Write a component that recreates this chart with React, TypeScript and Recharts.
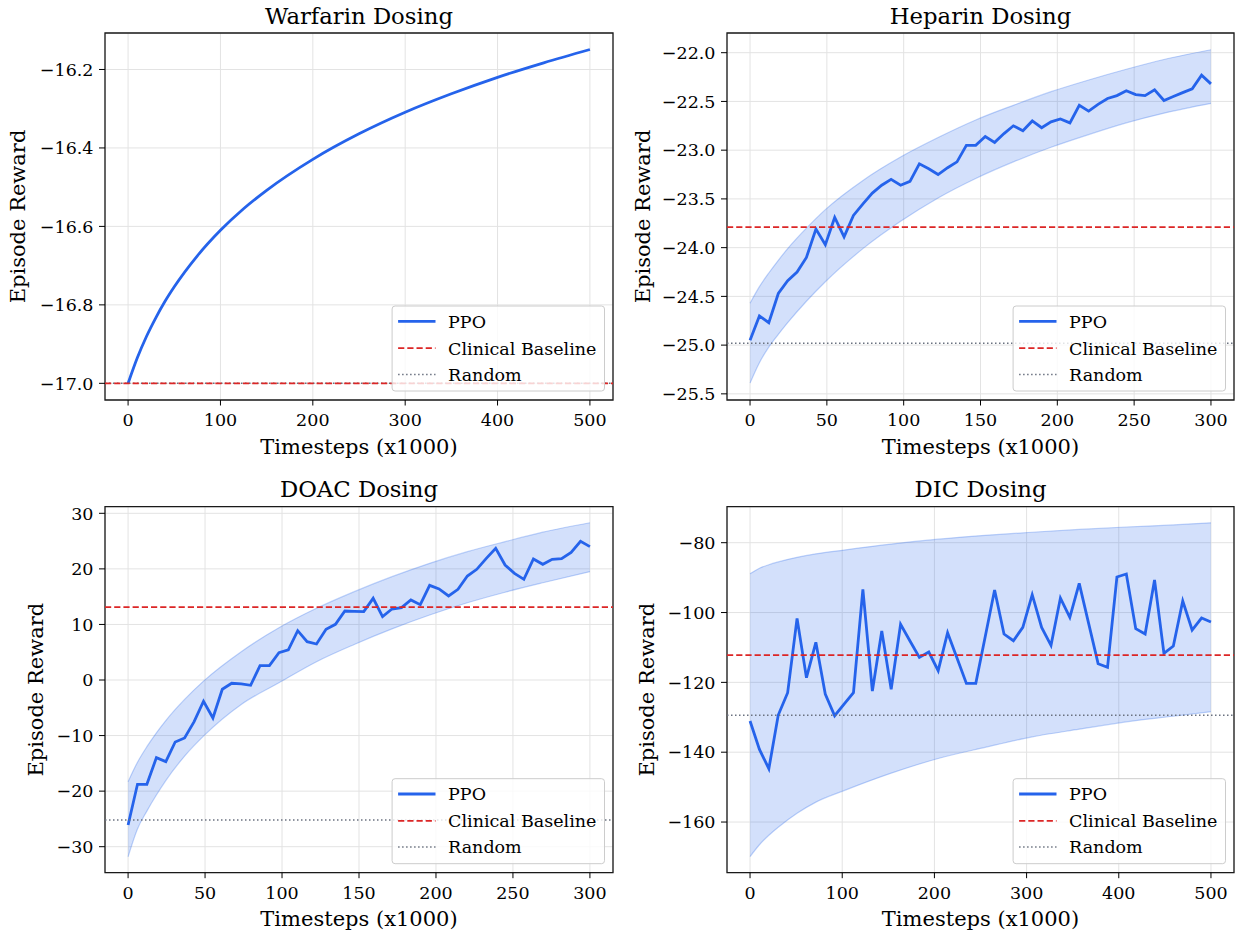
import React from 'react';
import {
  ComposedChart,
  Line,
  Area,
  XAxis,
  YAxis,
  CartesianGrid,
  ReferenceLine,
  ReferenceArea,
} from 'recharts';

const FONT = '"DejaVu Serif", "Liberation Serif", serif';
const BLUE = '#2563eb';
const RED = '#dc2626';
const GRAY = '#6b7280';

// ---------- Warfarin ----------
const warfarinSteps = [0, 10, 20, 30, 40, 50, 75, 100, 125, 150, 200, 250, 300, 350, 400, 450, 500];
const warfarinPPO = [-17.0, -16.935, -16.88, -16.833, -16.791, -16.754, -16.675, -16.61, -16.555, -16.508, -16.429, -16.364, -16.309, -16.262, -16.22, -16.183, -16.149];
const warfarinClinical = -17.0;
const warfarinRandom = -17.0;

// ---------- shared timestep grids ----------
const steps300 = [0, 6.1, 12.2, 18.4, 24.5, 30.6, 36.7, 42.9, 49.0, 55.1, 61.2, 67.3, 73.5, 79.6, 85.7, 91.8, 98.0, 104.1, 110.2, 116.3, 122.4, 128.6, 134.7, 140.8, 146.9, 153.1, 159.2, 165.3, 171.4, 177.6, 183.7, 189.8, 195.9, 202.0, 208.2, 214.3, 220.4, 226.5, 232.7, 238.8, 244.9, 251.0, 257.1, 263.3, 269.4, 275.5, 281.6, 287.8, 293.9, 300];
const steps500 = [0, 10.2, 20.4, 30.6, 40.8, 51.0, 61.2, 71.4, 81.6, 91.8, 102.0, 112.2, 122.4, 132.7, 142.9, 153.1, 163.3, 173.5, 183.7, 193.9, 204.1, 214.3, 224.5, 234.7, 244.9, 255.1, 265.3, 275.5, 285.7, 295.9, 306.1, 316.3, 326.5, 336.7, 346.9, 357.1, 367.3, 377.6, 387.8, 398.0, 408.2, 418.4, 428.6, 438.8, 449.0, 459.2, 469.4, 479.6, 489.8, 500];

// ---------- Heparin ----------
const heparinPPO = [-24.95, -24.70, -24.77, -24.47, -24.34, -24.25, -24.10, -23.81, -23.97, -23.69, -23.89, -23.67, -23.55, -23.44, -23.36, -23.30, -23.36, -23.32, -23.14, -23.19, -23.25, -23.18, -23.12, -22.95, -22.95, -22.86, -22.92, -22.83, -22.75, -22.80, -22.70, -22.77, -22.71, -22.68, -22.72, -22.54, -22.60, -22.53, -22.47, -22.44, -22.39, -22.43, -22.44, -22.38, -22.49, -22.45, -22.41, -22.37, -22.23, -22.32];
const heparinBandSteps = [0, 6.1, 12.2, 18.4, 24.5, 36.7, 49.0, 73.5, 98.0, 122.4, 146.9, 171.4, 195.9, 220.4, 244.9, 269.4, 300];
const heparinBandLow = [-25.39, -25.18, -25.02, -24.89, -24.77, -24.55, -24.35, -24.01, -23.73, -23.49, -23.29, -23.12, -22.97, -22.84, -22.72, -22.62, -22.52];
const heparinBandHigh = [-24.57, -24.40, -24.26, -24.13, -24.01, -23.80, -23.61, -23.31, -23.07, -22.87, -22.69, -22.54, -22.40, -22.28, -22.17, -22.07, -21.97];
const heparinClinical = -23.79;
const heparinRandom = -24.98;

// ---------- DOAC ----------
const doacPPO = [-26.09, -18.77, -18.77, -13.97, -14.69, -11.15, -10.43, -7.49, -3.83, -6.83, -1.67, -0.59, -0.71, -0.95, 2.59, 2.59, 4.93, 5.41, 8.88, 6.90, 6.48, 9.12, 10.02, 12.42, 12.36, 12.30, 14.70, 11.40, 12.78, 13.02, 14.40, 13.56, 17.04, 16.38, 15.12, 16.32, 18.72, 19.92, 21.90, 23.70, 20.70, 19.20, 18.12, 21.78, 20.82, 21.72, 21.84, 22.98, 24.96, 24.00];
const doacBandSteps = [0, 6.1, 12.2, 18.4, 24.5, 36.7, 49.0, 73.5, 98.0, 122.4, 146.9, 171.4, 195.9, 220.4, 244.9, 269.4, 300];
const doacBandLow = [-31.8, -26.8, -23.6, -20.7, -18.1, -13.7, -10.1, -4.4, -0.5, 3.3, 6.4, 9.2, 11.7, 13.9, 15.8, 17.5, 19.5];
const doacBandHigh = [-18.3, -14.8, -12.0, -9.5, -7.3, -3.5, -0.2, 5.1, 9.4, 12.9, 15.9, 18.6, 21.0, 23.1, 24.9, 26.6, 28.3];
const doacClinical = 13.1;
const doacRandom = -25.2;

// ---------- DIC ----------
const dicPPO = [-131.07, -139.19, -144.73, -129.36, -122.96, -101.67, -118.66, -108.54, -123.34, -129.55, -126.21, -122.96, -93.37, -122.48, -105.30, -122.00, -103.39, -108.16, -112.84, -111.31, -116.66, -105.78, -113.03, -120.29, -120.29, -106.92, -93.56, -106.16, -108.07, -104.25, -94.89, -104.25, -109.40, -95.85, -101.38, -91.65, -103.10, -114.65, -115.70, -89.83, -88.97, -104.63, -106.16, -90.69, -111.69, -109.59, -96.71, -105.01, -101.58, -102.72];
const dicBandSteps = [0, 10.2, 20.4, 30.6, 51.0, 71.4, 102.0, 153.1, 204.1, 255.1, 306.1, 357.1, 408.2, 459.2, 500];
const dicBandLow = [-169.9, -166.5, -163.8, -161.5, -157.5, -154.3, -151.0, -146.0, -141.8, -138.6, -135.6, -133.4, -131.3, -129.7, -128.4];
const dicBandHigh = [-88.9, -87.3, -86.3, -85.5, -84.2, -83.2, -82.1, -80.4, -79.0, -77.9, -77.0, -76.2, -75.5, -74.9, -74.3];
const dicClinical = -112.2;
const dicRandom = -129.4;

// ---------- tick labels ----------
const xTicks500 = [0, 100, 200, 300, 400, 500];
const xTicks300 = [0, 50, 100, 150, 200, 250, 300];
const warfarinYTicks = [-17.0, -16.8, -16.6, -16.4, -16.2];
const heparinYTicks = [-25.5, -25.0, -24.5, -24.0, -23.5, -23.0, -22.5, -22.0];
const doacYTicks = [-30, -20, -10, 0, 10, 20, 30];
const dicYTicks = [-160, -140, -120, -100, -80];

const titles = ['Warfarin Dosing', 'Heparin Dosing', 'DOAC Dosing', 'DIC Dosing'];
const legendLabels = ['PPO', 'Clinical Baseline', 'Random'];
const xLabel = 'Timesteps (x1000)';
const yLabel = 'Episode Reward';

type Row = { x: number; ppo?: number; band?: [number, number] };

function buildTable(steps: number[], ppo: number[], bSteps?: number[], bLow?: number[], bHigh?: number[]): Row[] {
  return steps.map((x, i) => {
    const row: Row = { x, ppo: ppo[i] };
    if (bSteps && bLow && bHigh) {
      const j = bSteps.indexOf(x);
      if (j >= 0) row.band = [bLow[j], bHigh[j]];
    }
    return row;
  });
}

const fmt = (d: number) => (v: number) => (v < 0 ? '\u2212' : '') + Math.abs(v).toFixed(d);

const TICK_FS = 17.5;
const LABEL_FS = 21;
const TITLE_FS = 22.75;

type PanelProps = {
  left: number;
  top: number;
  width: number;
  height: number;
  marginTop: number;
  marginRight: number;
  yAxisWidth: number;
  xAxisHeight: number;
  data: Row[];
  xDomain: [number, number];
  xTicks: number[];
  yDomain: [number, number];
  yTicks: number[];
  decimals: number;
  band: boolean;
  smooth: boolean;
  clinical: number;
  random: number;
};

function Panel(p: PanelProps) {
  const tickStyle = { fill: '#000', fontSize: TICK_FS, fontFamily: FONT };
  return (
    <div style={{ position: 'absolute', left: p.left, top: p.top, width: p.width, height: p.height }}>
      <ComposedChart
        width={p.width}
        height={p.height}
        data={p.data}
        margin={{ top: p.marginTop, right: p.marginRight, bottom: 0, left: 0 }}
      >
        <CartesianGrid stroke="#e3e3e3" strokeWidth={1} />
        <XAxis
          dataKey="x"
          type="number"
          domain={p.xDomain}
          ticks={p.xTicks}
          interval={0}
          allowDataOverflow
          height={p.xAxisHeight}
          axisLine={false}
          tickLine={{ stroke: '#000', strokeWidth: 1 }}
          tickSize={5.5}
          tickMargin={8}
          tick={tickStyle}
        />
        <YAxis
          type="number"
          domain={p.yDomain}
          ticks={p.yTicks}
          interval={0}
          allowDataOverflow
          width={p.yAxisWidth}
          axisLine={false}
          tickLine={{ stroke: '#000', strokeWidth: 1 }}
          tickSize={6}
          tickMargin={5.5}
          tick={tickStyle}
          tickFormatter={fmt(p.decimals)}
        />
        {p.band && (
          <Area
            type="monotone"
            dataKey="band"
            stroke={BLUE}
            strokeOpacity={0.28}
            strokeWidth={1.2}
            fill={BLUE}
            fillOpacity={0.2}
            connectNulls
            dot={false}
            activeDot={false}
            isAnimationActive={false}
          />
        )}
        <Line
          type={p.smooth ? 'monotone' : 'linear'}
          dataKey="ppo"
          stroke={BLUE}
          strokeWidth={2.8}
          dot={false}
          activeDot={false}
          isAnimationActive={false}
        />
        <ReferenceLine y={p.random} stroke={GRAY} strokeWidth={1.5} strokeDasharray="1.5 2.5" />
        <ReferenceLine y={p.clinical} stroke={RED} strokeWidth={1.7} strokeDasharray="6.2 3" />
        <ReferenceArea
          x1={p.xDomain[0]}
          x2={p.xDomain[1]}
          y1={p.yDomain[0]}
          y2={p.yDomain[1]}
          fill="none"
          fillOpacity={0}
          stroke="#1a1a1a"
          strokeWidth={1.3}
          strokeOpacity={1}
        />
      </ComposedChart>
    </div>
  );
}

// plot-area geometry used for overlay text
const plots = [
  { l: 105, r: 613, t: 33, b: 400, ylx: 25 },
  { l: 727, r: 1234, t: 33, b: 400, ylx: 649.5 },
  { l: 105, r: 613, t: 506.7, b: 872.7, ylx: 43.5 },
  { l: 727, r: 1234, t: 506.7, b: 872.7, ylx: 654.5 },
];

function LegendBox({ x0, y0 }: { x0: number; y0: number }) {
  const rows = [y0 + 15.3, y0 + 42.2, y0 + 68.4];
  const styles = [
    { stroke: BLUE, dash: undefined as string | undefined, w: 2.8 },
    { stroke: RED, dash: '6.2 3', w: 1.7 },
    { stroke: GRAY, dash: '1.5 2.5', w: 1.5 },
  ];
  return (
    <g>
      <rect x={x0} y={y0} width={212.4} height={85} rx={3} ry={3} fill="#fff" fillOpacity={0.8} stroke="#cccccc" strokeWidth={1} />
      {legendLabels.map((lab, i) => (
        <g key={lab}>
          <line x1={x0 + 6} x2={x0 + 43.4} y1={rows[i]} y2={rows[i]} stroke={styles[i].stroke} strokeWidth={styles[i].w} strokeDasharray={styles[i].dash} />
          <text x={x0 + 56} y={rows[i] + 6.3} fontFamily={FONT} fontSize={TICK_FS} fill="#000">
            {lab}
          </text>
        </g>
      ))}
    </g>
  );
}

export default function App() {
  const warfarinData = buildTable(warfarinSteps, warfarinPPO);
  const heparinData = buildTable(steps300, heparinPPO, heparinBandSteps, heparinBandLow, heparinBandHigh);
  const doacData = buildTable(steps300, doacPPO, doacBandSteps, doacBandLow, doacBandHigh);
  const dicData = buildTable(steps500, dicPPO, dicBandSteps, dicBandLow, dicBandHigh);

  return (
    <div style={{ position: 'absolute', left: 0, top: 0, width: 1235, height: 934, background: '#fff', overflow: 'hidden' }}>
      <Panel
        left={0} top={0} width={617} height={467} marginTop={33} marginRight={4} yAxisWidth={105} xAxisHeight={67}
        data={warfarinData} xDomain={[-25, 525]} xTicks={xTicks500}
        yDomain={[-17.0425, -16.107]} yTicks={warfarinYTicks} decimals={1}
        band={false} smooth clinical={warfarinClinical} random={warfarinRandom}
      />
      <Panel
        left={617} top={0} width={618} height={467} marginTop={33} marginRight={1} yAxisWidth={110} xAxisHeight={67}
        data={heparinData} xDomain={[-15, 315]} xTicks={xTicks300}
        yDomain={[-25.563, -21.798]} yTicks={heparinYTicks} decimals={1}
        band smooth={false} clinical={heparinClinical} random={heparinRandom}
      />
      <Panel
        left={0} top={467} width={617} height={467} marginTop={39.7} marginRight={4} yAxisWidth={105} xAxisHeight={61.3}
        data={doacData} xDomain={[-15, 315]} xTicks={xTicks300}
        yDomain={[-34.68, 31.19]} yTicks={doacYTicks} decimals={0}
        band smooth={false} clinical={doacClinical} random={doacRandom}
      />
      <Panel
        left={617} top={467} width={618} height={467} marginTop={39.7} marginRight={1} yAxisWidth={110} xAxisHeight={61.3}
        data={dicData} xDomain={[-25, 525]} xTicks={xTicks500}
        yDomain={[-174.51, -69.69]} yTicks={dicYTicks} decimals={0}
        band smooth={false} clinical={dicClinical} random={dicRandom}
      />
      <svg width={1235} height={934} style={{ position: 'absolute', left: 0, top: 0, pointerEvents: 'none' }}>
        {plots.map((pl, i) => {
          const cx = (pl.l + pl.r) / 2;
          const cy = (pl.t + pl.b) / 2;
          return (
            <g key={i}>
              <text x={cx} y={pl.t - 9.5} textAnchor="middle" fontFamily={FONT} fontSize={TITLE_FS} fill="#000">
                {titles[i]}
              </text>
              <text x={cx} y={pl.b + 53.5} textAnchor="middle" fontFamily={FONT} fontSize={LABEL_FS} fill="#000">
                {xLabel}
              </text>
              <text
                x={pl.ylx}
                y={cy}
                textAnchor="middle"
                fontFamily={FONT}
                fontSize={LABEL_FS}
                fill="#000"
                transform={`rotate(-90 ${pl.ylx} ${cy})`}
              >
                {yLabel}
              </text>
              <LegendBox x0={pl.r - 8.5 - 212.4} y0={pl.b - 9 - 85} />
            </g>
          );
        })}
      </svg>
    </div>
  );
}
